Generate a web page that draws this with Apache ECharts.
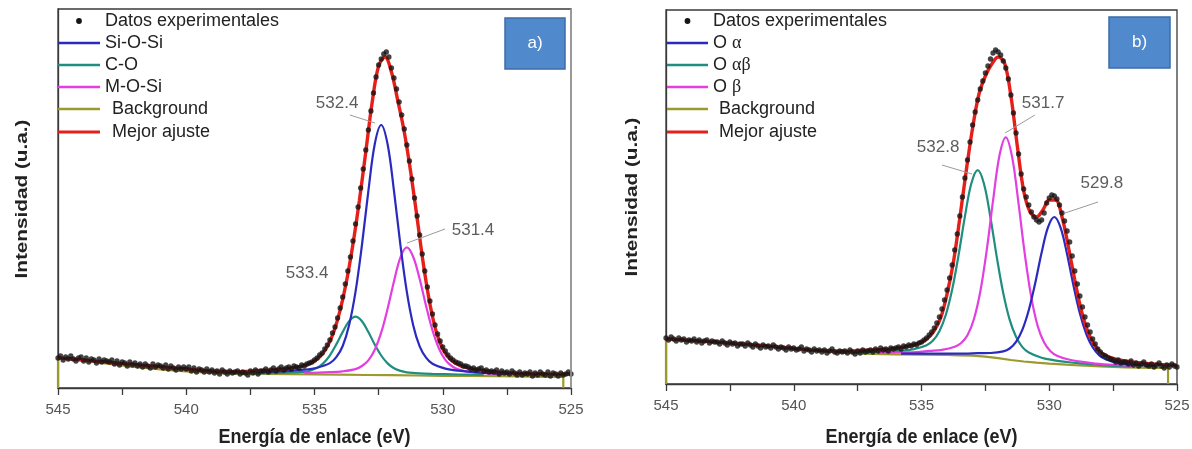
<!DOCTYPE html>
<html>
<head>
<meta charset="utf-8">
<script src="https://cdn.jsdelivr.net/npm/echarts@6/dist/echarts.min.js"></script>
<style>
  html, body { margin: 0; padding: 0; background: #fff; }
  #chart { width: 1192px; height: 449px; }
</style>
</head>
<body>
<div id="chart"></div>
<script>
// ---- shared scales -------------------------------------------------------
const xTickLabels = [545, 540, 535, 530, 525];
const scanStart = 545;   // eV, first experimental point
const scanStep = 0.1;    // eV between experimental points

// ---- a) Si-O-Si / C-O / M-O-Si -------------------------------------------
// experimental counts, 545.0 -> 525.0 eV
const dataA = [
  30, 32, 28, 31, 29, 32, 29, 27, 30, 31,
  27, 30, 26, 29, 28, 25, 29, 26, 28, 27,
  26, 28, 24, 27, 23, 26, 25, 22, 26, 23,
  25, 22, 24, 21, 24, 22, 20, 24, 21, 23,
  22, 20, 23, 19, 22, 20, 18, 21, 19, 21,
  19, 21, 17, 20, 16, 19, 18, 16, 19, 16,
  18, 15, 17, 14, 18, 16, 14, 17, 15, 16,
  17, 14, 16, 15, 13, 17, 15, 18, 14, 17,
  17, 19, 16, 18, 20, 17, 19, 21, 18, 20,
  21, 19, 22, 21, 20, 23, 22, 24, 25, 26,
  28, 30, 33, 35, 39, 43, 48, 55, 61, 70,
  80, 91, 104, 117, 131, 147, 164, 181, 200, 219,
  238, 258, 277, 295, 311, 323, 329, 334, 336, 331,
  320, 310, 299, 286, 273, 259, 243, 227, 209, 190,
  172, 153, 134, 117, 101, 87, 74, 63, 54, 47,
  41, 37, 33, 30, 28, 26, 25, 24, 22, 22,
  21, 19, 20, 18, 19, 20, 17, 18, 16, 17,
  16, 18, 14, 17, 15, 16, 14, 17, 15, 13,
  16, 13, 15, 14, 16, 12, 15, 13, 16, 14,
  13, 16, 12, 15, 14, 12, 15, 13, 14, 16,
  14
];
const fitA = [[545,30],[544,28],[543,25.5],[542,23.5],[541,21.3],[540,19],[539,17],[538,16.2],[537.5,16.8],[537,17.6],[536.5,18.3],[536,19.5],[535.5,21.8],[535.25,23.7],[535,27],[534.75,32.5],[534.5,41.5],[534.25,56],[534,77.8],[533.75,107],[533.5,144],[533.25,187.6],[533,236.3],[532.75,286],[532.5,322],[532.25,331],[532,316],[531.75,287],[531.5,256],[531.25,216],[531,170],[530.75,123],[530.5,84],[530.25,56],[530,39],[529.75,30],[529.5,24.6],[529.25,21.6],[529,19.9],[528.5,17.5],[528,16.2],[527.5,15.1],[527,14.5],[526,14],[525,13.8]];
const siOSi = [[537.4,15.8],[536.4,16.6],[535.4,18.4],[534.9,20.3],[534.4,24.9],[534.15,30.8],[533.9,42],[533.65,63],[533.4,96.4],[533.15,143],[532.9,197],[532.65,244],[532.4,263],[532.15,243.7],[531.9,196.9],[531.65,142.9],[531.4,96.1],[531.15,62.6],[530.9,41.6],[530.65,30.3],[530.4,24.2],[529.9,19.4],[529.4,17.3],[528.4,15],[527.4,14]];
const cO = [[537.4,14.6],[536.4,15.2],[535.9,15.6],[535.4,16.1],[535.15,17.5],[534.9,20.1],[534.65,24.9],[534.4,32.7],[534.15,43.6],[533.9,56.1],[533.65,66.9],[533.4,71.4],[533.15,66.8],[532.9,56],[532.65,43.4],[532.4,32.5],[532.15,24.6],[531.9,19.8],[531.65,17.1],[531.4,15.7],[530.9,14.6],[530.4,14.1],[529.4,13.5],[528.4,13]];
const mOSi = [[535.4,14.9],[534.4,15.8],[533.9,16.7],[533.4,18.9],[533.15,22],[532.9,27.6],[532.65,38.3],[532.4,55.3],[532.15,79.3],[531.9,106.8],[531.65,130.7],[531.4,140.6],[531.15,131],[530.9,109],[530.65,82],[530.4,57.5],[530.15,39.5],[529.9,28.2],[529.65,22],[529.4,18.6],[528.9,15.9],[528.4,14.8],[527.4,13.6],[526.4,13]];
const bgA = [[545,0],[545,30],[544,27],[543,24],[542,21],[541,18.5],[540,16.5],[539,15],[538,14.2],[537,14],[536,13.8],[535,13.5],[534,13.3],[533,13],[532,12.8],[531,12.5],[530,12.2],[529,12],[528,11.8],[527,11.5],[526,11.2],[525.3,11],[525.3,0]];
const notesA = [[534.12, 285, '532.4'], [528.82, 158, '531.4'], [535.29, 115, '533.4']];
const leadersA = [[[533.62, 273], [532.64, 265]], [[529.91, 159], [531.39, 145]]];

// ---- b) O alpha / O alpha-beta / O beta ----------------------------------
const dataB = [
  46, 44, 47, 45, 43, 46, 44, 45, 42, 44,
  43, 45, 42, 44, 41, 43, 44, 41, 43, 42,
  42, 40, 43, 41, 39, 42, 40, 41, 38, 40,
  40, 38, 41, 39, 37, 40, 38, 36, 39, 37,
  38, 36, 39, 37, 35, 37, 36, 34, 37, 35,
  36, 34, 35, 37, 33, 35, 34, 32, 35, 33,
  34, 32, 34, 31, 33, 35, 32, 31, 33, 32,
  33, 31, 34, 32, 30, 33, 31, 34, 32, 33,
  34, 32, 35, 33, 36, 34, 35, 33, 36, 35,
  36, 37, 35, 38, 37, 39, 38, 40, 39, 41,
  42, 44, 46, 49, 52, 56, 61, 67, 75, 84,
  94, 106, 119, 134, 150, 168, 187, 206, 224, 242,
  259, 272, 284, 295, 303, 311, 318, 325, 331, 334,
  332, 329, 323, 316, 305, 289, 271, 251, 230, 210,
  195, 187, 179, 172, 167, 164, 162, 164, 171, 181,
  186, 189, 188, 185, 179, 171, 163, 153, 142, 128,
  113, 100, 88, 77, 67, 59, 52, 45, 40, 35,
  32, 29, 28, 26, 25, 24, 22, 24, 21, 22,
  22, 20, 23, 19, 21, 18, 20, 22, 19, 18,
  20, 17, 19, 21, 18, 16, 19, 17, 20, 18,
  17
];
const fitB = [[545,45],[544,43.5],[543,42],[542,40],[541,38],[540,35.5],[539,33.5],[538,32.8],[537.5,33.3],[537,34.1],[536.5,34.5],[536,35.6],[535.5,37.8],[535,41.8],[534.75,46],[534.5,53.5],[534.25,66],[534,90],[533.75,122],[533.5,166],[533.25,213],[533,256],[532.75,290],[532.5,308],[532.25,320],[532,327],[531.75,321],[531.5,288],[531.25,238],[531,193],[530.75,172],[530.5,167],[530.25,174],[530,184],[529.75,184],[529.5,167],[529.25,137],[529,104],[528.75,74],[528.5,53],[528.25,40],[528,32],[527.5,25.6],[527,22.8],[526,20.1],[525,18.8]];
const oAlpha = [[535.8,30.3],[534.8,30.3],[533.8,30.4],[533.3,30.3],[532.8,30.8],[532.3,31],[531.8,32.6],[531.55,35.5],[531.3,42.2],[531.05,54.4],[530.8,74],[530.55,100.8],[530.3,131.2],[530.05,156.7],[529.8,167],[529.55,155.9],[529.3,129.5],[529.05,98.3],[528.8,70.5],[528.55,50],[528.3,36.7],[528.05,28.9],[527.8,24.8],[527.3,21.2],[526.8,19.5],[526.3,18.5],[525.8,17.9]];
const oAlphaBeta = [[537.8,32.2],[536.8,32],[536.3,32.3],[535.8,33.1],[535.3,34.7],[534.8,38.7],[534.55,43.4],[534.3,52.8],[534.05,69],[533.8,94.4],[533.55,128.8],[533.3,167.6],[533.05,200.5],[532.8,213.9],[532.55,199.8],[532.3,166.2],[532.05,126.4],[531.8,90.9],[531.55,64.4],[531.3,47.2],[531.05,36.9],[530.8,31.5],[530.3,26.3],[529.8,23.7],[529.3,22],[528.8,20.7],[527.8,18.7],[526.8,17.7]];
const oBeta = [[536.7,31.1],[535.7,31.6],[535.2,32],[534.7,33.1],[534.2,34.1],[533.7,37.2],[533.45,41],[533.2,48.8],[532.95,64.8],[532.7,92.3],[532.45,133.3],[532.2,183.3],[531.95,228.3],[531.7,246.7],[531.45,226.6],[531.2,180.1],[530.95,128.6],[530.7,86.4],[530.45,57.8],[530.2,41.4],[529.95,32.7],[529.7,28.3],[529.2,24.2],[528.7,22.2],[528.2,20.3],[527.7,19.5],[526.7,18]];
const bgB = [[545,0],[545,46],[544,44],[543,42],[542,40],[541,38],[540,35.5],[539,33],[538,31],[537,30],[536,29.5],[535,29.3],[534,29],[533.5,28.7],[533,28.3],[532.5,27.3],[532,25.8],[531.5,24],[531,22.5],[530.5,21.3],[530,20.3],[529,18.8],[528,17.5],[527,16.7],[526,16.2],[525.35,16],[525.35,0]];
const notesB = [[530.24, 281, '531.7'], [534.35, 237, '532.8'], [527.94, 201, '529.8']];
const leadersB = [[[530.56, 269], [531.73, 251]], [[534.2, 219], [533.02, 210]], [[528.09, 182], [529.38, 171]]];

// ---- drawing ---------------------------------------------------------------
const FONT = '"Liberation Sans", Arial, Helvetica, sans-serif';
const SERIF = '"Liberation Serif", "Times New Roman", serif';
const COL = {
  data: '#151515', blue: '#2a2abf', teal: '#1f8e7f', magenta: '#e23ee2',
  olive: '#9c9a2c', red: '#e5201b', lead: '#9b9b9b', axis: '#3a3a3a'
};
const xTitle = 'Energía de enlace (eV)';
const yTitle = 'Intensidad (u.a.)';

const chart = echarts.init(document.getElementById('chart'), null, { renderer: 'canvas' });

function scan(values) {
  return values.map((v, i) => [+(scanStart - i * scanStep).toFixed(1), v]);
}

function xAxis(gi) {
  return {
    type: 'value', gridIndex: gi, min: 525, max: 545, interval: 2.5, inverse: true,
    axisLine: { show: true, onZero: false, lineStyle: { color: COL.axis, width: 1.3 } },
    axisTick: { show: true, inside: false, length: 7, lineStyle: { color: COL.axis, width: 1.3 } },
    axisLabel: {
      color: '#555', fontSize: 15, fontFamily: FONT, margin: 14,
      formatter: v => (xTickLabels.indexOf(v) >= 0 ? String(v) : '')
    },
    splitLine: { show: false }
  };
}

function yAxis(gi, top) {
  return {
    type: 'value', gridIndex: gi, min: 0, max: top,
    axisLine: { show: true, lineStyle: { color: COL.axis, width: 1.3 } },
    axisTick: { show: false }, axisLabel: { show: false }, splitLine: { show: false }
  };
}

function curve(name, data, color, width, gi, z, smooth) {
  return {
    type: 'line', name, xAxisIndex: gi, yAxisIndex: gi, data,
    smooth: smooth === undefined ? 0.35 : smooth, symbol: 'none', showSymbol: false,
    lineStyle: { color, width }, itemStyle: { color }, z, silent: true
  };
}

function points(name, values, gi) {
  return {
    type: 'scatter', name, xAxisIndex: gi, yAxisIndex: gi, data: scan(values),
    symbol: 'circle', symbolSize: 5.3, itemStyle: { color: COL.data }, z: 6, silent: true
  };
}

function notes(list, gi) {
  return {
    type: 'scatter', xAxisIndex: gi, yAxisIndex: gi, data: list, symbolSize: 1,
    itemStyle: { color: 'transparent' }, z: 8, silent: true,
    label: {
      show: true, position: 'inside', formatter: p => p.value[2],
      fontSize: 17, color: '#333', fontFamily: FONT
    }
  };
}

function leaders(list, gi) {
  return list.map(seg => ({
    type: 'line', xAxisIndex: gi, yAxisIndex: gi, data: seg, symbol: 'none',
    lineStyle: { color: COL.lead, width: 1 }, z: 7, silent: true
  }));
}

const series = [
  curve('Background', bgA, COL.olive, 2.2, 0, 2, false),
  curve('C-O', cO, COL.teal, 2.2, 0, 3),
  curve('M-O-Si', mOSi, COL.magenta, 2.2, 0, 3),
  curve('Si-O-Si', siOSi, COL.blue, 2.2, 0, 3),
  curve('Mejor ajuste', fitA, COL.red, 3.4, 0, 4),
  points('Datos experimentales', dataA, 0),
  notes(notesA, 0),
  ...leaders(leadersA, 0),

  curve('Background', bgB, COL.olive, 2.2, 1, 2, false),
  curve('O αβ', oAlphaBeta, COL.teal, 2.2, 1, 3),
  curve('O β', oBeta, COL.magenta, 2.2, 1, 3),
  curve('O α', oAlpha, COL.blue, 2.2, 1, 3),
  curve('Mejor ajuste', fitB, COL.red, 3.4, 1, 4),
  points('Datos experimentales', dataB, 1),
  notes(notesB, 1),
  ...leaders(leadersB, 1)
];

// legend blocks drawn in the top-left corner of each frame
const legendRows = [21, 43, 65, 87, 109, 132];
const legendA = [
  { text: 'Datos experimentales', dot: true },
  { text: 'Si-O-Si', color: COL.blue },
  { text: 'C-O', color: COL.teal },
  { text: 'M-O-Si', color: COL.magenta },
  { text: 'Background', color: COL.olive, shift: true },
  { text: 'Mejor ajuste', color: COL.red, shift: true, width: 3 }
];
const legendB = [
  { text: 'Datos experimentales', dot: true },
  { text: 'O {g|α}', color: COL.blue },
  { text: 'O {g|αβ}', color: COL.teal },
  { text: 'O {g|β}', color: COL.magenta },
  { text: 'Background', color: COL.olive, shift: true },
  { text: 'Mejor ajuste', color: COL.red, shift: true, width: 3 }
];

function legendBlock(entries, x0, x1, tx, tx2) {
  const els = [];
  entries.forEach((e, i) => {
    const y = legendRows[i];
    if (e.dot) {
      els.push({ type: 'circle', shape: { cx: (x0 + x1) / 2, cy: y, r: 2.9 }, style: { fill: COL.data }, z: 20 });
    } else {
      els.push({ type: 'line', shape: { x1: x0, y1: y, x2: x1, y2: y },
        style: { stroke: e.color, lineWidth: e.width || 2.5 }, z: 20 });
    }
    els.push({
      type: 'text', x: e.shift ? tx2 : tx, y, z: 20,
      style: {
        text: e.text, fill: '#222', fontSize: 18, fontFamily: FONT,
        verticalAlign: 'middle', align: 'left',
        rich: { g: { fontFamily: SERIF, fontSize: 18, fill: '#222' } }
      }
    });
  });
  return els;
}

function tag(label, x, y, w, h) {
  return [
    { type: 'rect', shape: { x, y, width: w, height: h },
      style: { fill: '#508acd', stroke: '#3b6ca6', lineWidth: 1.5 }, z: 20 },
    { type: 'text', x: x + w / 2, y: y + h / 2, z: 21,
      style: { text: label, fill: '#fff', fontSize: 17, fontFamily: FONT, align: 'center', verticalAlign: 'middle' } }
  ];
}

// axis titles, slightly elongated like the printed figure
function titles(cx, cy, tx, ty) {
  return [
    { type: 'text', x: cx, y: cy, scaleY: 1.12, z: 20,
      style: { text: xTitle, fill: '#222', fontSize: 18, fontWeight: 'bold', fontFamily: FONT,
        align: 'center', verticalAlign: 'middle' } },
    { type: 'text', x: tx, y: ty, rotation: Math.PI / 2, scaleX: 1.22, z: 20,
      style: { text: yTitle, fill: '#222', fontSize: 17, fontWeight: 'bold', fontFamily: FONT,
        align: 'center', verticalAlign: 'middle' } }
  ];
}

chart.setOption({
  animation: false,
  backgroundColor: '#fff',
  textStyle: { fontFamily: FONT },
  grid: [
    { left: 58, top: 9, width: 513, height: 379, show: true, borderColor: COL.axis, borderWidth: 1.3,
      containLabel: false, outerBoundsMode: 'none' },
    { left: 666, top: 10, width: 511, height: 374, show: true, borderColor: COL.axis, borderWidth: 1.3,
      containLabel: false, outerBoundsMode: 'none' }
  ],
  xAxis: [xAxis(0), xAxis(1)],
  yAxis: [yAxis(0, 379), yAxis(1, 374)],
  series,
  graphic: [
    // lighter right edge of the first frame
    { type: 'line', shape: { x1: 571, y1: 9, x2: 571, y2: 388 }, style: { stroke: '#a0a0a0', lineWidth: 1.6 }, z: 19 },
    ...legendBlock(legendA, 58, 100, 105, 112),
    ...legendBlock(legendB, 667, 708, 713, 719),
    ...tag('a)', 505, 18, 60, 51),
    ...tag('b)', 1109, 17, 61, 51),
    ...titles(314.5, 437, 22, 199),
    ...titles(921.5, 437, 632, 197)
  ]
});
</script>
</body>
</html>
